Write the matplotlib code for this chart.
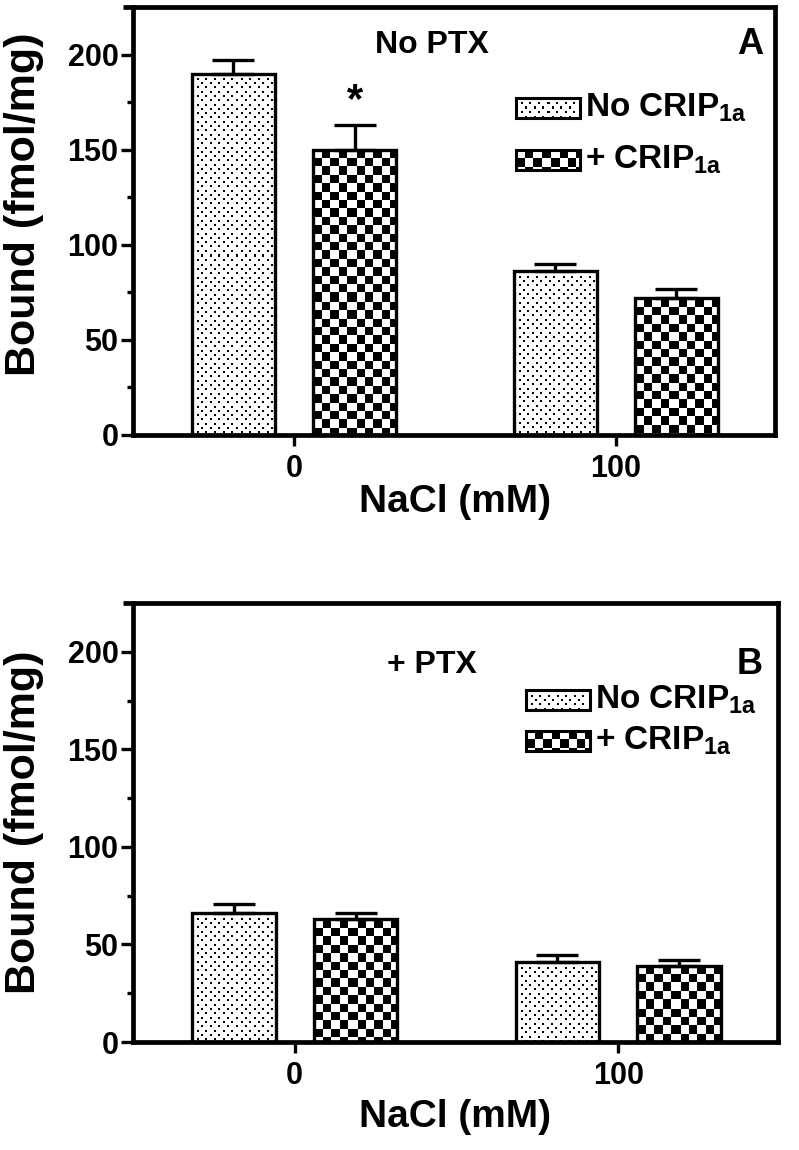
import numpy as np
import matplotlib
matplotlib.use("Agg")
import matplotlib.pyplot as plt
from matplotlib.patches import Rectangle

# data
groups = ["0", "100"]
no_crip_a = [190, 86]
no_crip_a_err = [7, 4]
crip_a = [150, 72]
crip_a_err = [13, 4.5]
no_crip_b = [66, 41]
no_crip_b_err = [4.5, 3.5]
crip_b = [63, 39]
crip_b_err = [3, 3]

plt.rcParams["font.family"] = ["Liberation Sans", "DejaVu Sans"]
plt.rcParams["font.weight"] = "bold"
plt.rcParams["mathtext.fontset"] = "custom"
plt.rcParams["mathtext.rm"] = "Liberation Sans:bold"
plt.rcParams["mathtext.bf"] = "Liberation Sans:bold"

W, H = 799, 1150
fig = plt.figure(figsize=(W / 100, H / 100), dpi=100)


def fx(px):
    return px / W


def fy(py):
    return 1 - py / H


def pattern_img(nx, ny, kind):
    yy, xx = np.mgrid[0:ny, 0:nx]
    if kind == "check":
        s = 8.4
        return ((xx // s).astype(int) + (yy // s).astype(int)) % 2
    row = (yy // 4.3).astype(int)
    in_row = (yy - row * 4.3) < 2
    shift = (row % 2) * 4.3
    in_col = ((xx + shift) % 8.6) < 2
    img = (in_row & in_col).astype(int)
    # keep a white margin next to the outline
    img[:, :3] = 0
    img[:, -3:] = 0
    img[:3, :] = 0
    return img


def fill_rect(ax, x0, y0, w, h, kind):
    (px0, py0), (px1, py1) = ax.transData.transform([(x0, y0), (x0 + w, y0 + h)])
    nx, ny = max(int(round(px1 - px0)), 1), max(int(round(py1 - py0)), 1)
    ax.imshow(pattern_img(nx, ny, kind), cmap="gray_r", vmin=0, vmax=1,
              extent=(x0, x0 + w, y0, y0 + h), origin="upper",
              interpolation="nearest", aspect="auto", zorder=1)


def panel(rect, vals1, err1, vals2, err2, title, letter, leg_px, title_py, xlab_py,
          ylab_y, star=False):
    ax = fig.add_axes(rect)
    xlim = (-0.5, 1.494)
    ylim = (0, 225)
    ax.set_xlim(*xlim)
    ax.set_ylim(*ylim)
    x = np.arange(len(groups))
    off, bw = 0.188, 0.258
    b1 = ax.bar(x - off, vals1, bw, fill=False, edgecolor="black", linewidth=2.4, zorder=2)
    b2 = ax.bar(x + off, vals2, bw, fill=False, edgecolor="black", linewidth=2.4, zorder=2)
    for b in b1:
        fill_rect(ax, b.get_x(), 0, b.get_width(), b.get_height(), "dots")
    for b in b2:
        fill_rect(ax, b.get_x(), 0, b.get_width(), b.get_height(), "check")
    for xs, v, e in [(x - off, vals1, err1), (x + off, vals2, err2)]:
        ax.errorbar(xs, v, yerr=[np.zeros(len(e)), e], fmt="none", ecolor="black",
                    elinewidth=2.4, capsize=15, capthick=2.4, zorder=3)
    if star:
        ax.text(x[0] + off, vals2[0] + err2[0] + 2, "*", ha="center", va="bottom",
                fontsize=30, fontweight="bold")

    ax.set_xticks(x)
    ax.set_xticklabels(groups)
    ax.set_yticks(np.arange(0, 201, 50))
    ax.set_yticks(np.arange(25, 200, 50), minor=True)
    ax.tick_params(axis="y", which="major", length=8.5, width=2.4, labelsize=22, pad=2)
    ax.tick_params(axis="y", which="minor", length=4.5, width=2.4)
    ax.tick_params(axis="x", length=8, width=2.4, labelsize=22, pad=6)
    for lab in ax.get_xticklabels() + ax.get_yticklabels():
        lab.set_fontweight("bold")
    for sp in ax.spines.values():
        sp.set_linewidth(3.4)
    ax.plot([-0.016, 0], [1, 1], transform=ax.transAxes, color="black",
            linewidth=3.4, clip_on=False, solid_capstyle="butt")
    ax.set_ylabel("Bound (fmol/mg)", fontsize=31, fontweight="bold")
    ax.yaxis.set_label_coords((44 - 133) / rect[2] / W, ylab_y)
    ax.set_xlim(*xlim)
    ax.set_ylim(*ylim)

    fig.text(fx(432), fy(title_py), title, ha="center", va="center", fontsize=23, fontweight="bold")
    fig.text(fx(750), fy(title_py), letter, ha="center", va="center", fontsize=26, fontweight="bold")
    fig.text(fx(455), fy(xlab_py), "NaCl (mM)", ha="center", va="center", fontsize=28, fontweight="bold")

    # legend drawn by hand so it can carry the same fills
    lx0, lx1, rows = leg_px
    inv = ax.transData.inverted()
    labels = ["No CRIP$_{\\mathrm{1a}}$", "+ CRIP$_{\\mathrm{1a}}$"]
    for (cy, kind, lab) in zip(rows, ["dots", "check"], labels):
        (dx0, dy0) = inv.transform((lx0, H - (cy + 10)))
        (dx1, dy1) = inv.transform((lx1, H - (cy - 10)))
        fill_rect(ax, dx0, dy0, dx1 - dx0, dy1 - dy0, kind)
        ax.add_patch(Rectangle((dx0, dy0), dx1 - dx0, dy1 - dy0, fill=False,
                               edgecolor="black", linewidth=2.2, zorder=2))
        fig.text(fx(lx1 + 5), fy(cy), lab, ha="left", va="center", fontsize=24, fontweight="bold")
    ax.set_xlim(*xlim)
    ax.set_ylim(*ylim)
    return ax


panel([fx(133), fy(435), (775 - 133) / W, (435 - 7) / H],
      no_crip_a, no_crip_a_err, crip_a, crip_a_err,
      "No PTX", "A", (516, 580, [108, 160]), 45, 502, 0.54, star=True)
panel([fx(133), fy(1042), (778 - 133) / W, (1042 - 603) / H],
      no_crip_b, no_crip_b_err, crip_b, crip_b_err,
      "+ PTX", "B", (526, 590, [700, 741]), 665, 1117, 0.5)

fig.savefig("out.png", dpi=100)
